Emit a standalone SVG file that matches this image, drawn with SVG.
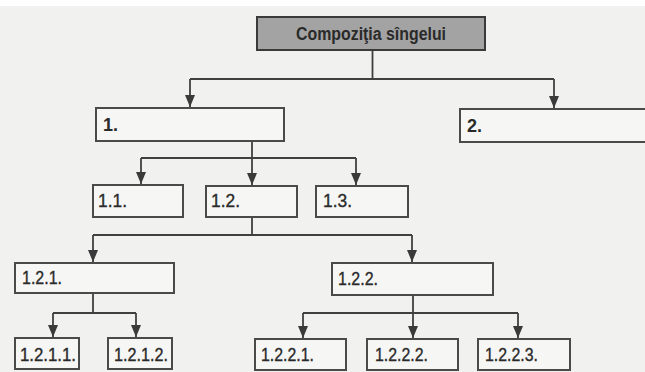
<svg xmlns="http://www.w3.org/2000/svg" width="645" height="372" viewBox="0 0 645 372">
<defs>
<marker id="ah" viewBox="0 0 12 10" refX="12" refY="5" markerWidth="12" markerHeight="10" markerUnits="userSpaceOnUse" orient="auto">
<path d="M0,0 L12,5 L0,10 Z" fill="#3a3a3a"/>
</marker>
<style>
.bx{fill:#f6f6f5;stroke:#4a4a4a;stroke-width:2}
.tl{fill:#a3a3a3;stroke:#3a3a3a;stroke-width:2}
.ln{fill:none;stroke:#404040;stroke-width:1.8}
.t{font-family:"Liberation Sans",Arial,sans-serif;font-size:19px;fill:#2a2a2a;stroke:#2a2a2a;stroke-width:0.35}
.b{font-family:"Liberation Sans",Arial,sans-serif;font-size:18px;font-weight:bold;fill:#2a2a2a}
</style>
</defs>
<rect x="0" y="0" width="645" height="372" fill="#f1f1ef"/>
<rect x="0" y="0" width="645" height="6" fill="#ffffff"/>
<g id="connectors">
<path class="ln" d="M372.5,50 V79 M190,79 H554"/>
<path class="ln" d="M190,79 V107" marker-end="url(#ah)"/>
<path class="ln" d="M554,79 V108" marker-end="url(#ah)"/>
<path class="ln" d="M252,141 V158 M141,158 H356"/>
<path class="ln" d="M141,158 V184" marker-end="url(#ah)"/>
<path class="ln" d="M252,158 V185" marker-end="url(#ah)"/>
<path class="ln" d="M356,158 V185" marker-end="url(#ah)"/>
<path class="ln" d="M252,217 V235 M93,235 H412"/>
<path class="ln" d="M93,235 V262" marker-end="url(#ah)"/>
<path class="ln" d="M412,235 V262" marker-end="url(#ah)"/>
<path class="ln" d="M93,293 V313 M53,313 H136"/>
<path class="ln" d="M53,313 V337" marker-end="url(#ah)"/>
<path class="ln" d="M136,313 V337" marker-end="url(#ah)"/>
<path class="ln" d="M413,295 V313 M303,313 H518"/>
<path class="ln" d="M303,313 V338" marker-end="url(#ah)"/>
<path class="ln" d="M413,313 V338" marker-end="url(#ah)"/>
<path class="ln" d="M518,313 V338" marker-end="url(#ah)"/>
</g>
<g id="root">
<rect class="tl" x="257" y="17" width="228" height="33"/>
<text class="b" x="371" y="40" text-anchor="middle" textLength="150" lengthAdjust="spacingAndGlyphs">Compoziţia sîngelui</text>
</g>
<g id="n1">
<rect class="bx" x="96" y="108" width="188" height="33"/>
<text class="b" x="103" y="131">1.</text>
</g>
<g id="n2">
<rect class="bx" x="460" y="109" width="190" height="33"/>
<text class="b" x="467" y="132">2.</text>
</g>
<g id="n1_1">
<rect class="bx" x="93" y="185" width="90" height="32"/>
<text class="t" x="98" y="207" textLength="29" lengthAdjust="spacingAndGlyphs">1.1.</text>
</g>
<g id="n1_2">
<rect class="bx" x="206" y="186" width="91" height="31"/>
<text class="t" x="211" y="207" textLength="29" lengthAdjust="spacingAndGlyphs">1.2.</text>
</g>
<g id="n1_3">
<rect class="bx" x="316" y="186" width="92" height="31"/>
<text class="t" x="323" y="207" textLength="29" lengthAdjust="spacingAndGlyphs">1.3.</text>
</g>
<g id="n1_2_1">
<rect class="bx" x="15" y="263" width="159" height="30"/>
<text class="t" x="22" y="284" textLength="40" lengthAdjust="spacingAndGlyphs">1.2.1.</text>
</g>
<g id="n1_2_2">
<rect class="bx" x="332" y="263" width="161" height="32"/>
<text class="t" x="338" y="285" textLength="40" lengthAdjust="spacingAndGlyphs">1.2.2.</text>
</g>
<g id="n1_2_1_1">
<rect class="bx" x="15" y="338" width="64" height="31"/>
<text class="t" x="20" y="361" textLength="56" lengthAdjust="spacingAndGlyphs">1.2.1.1.</text>
</g>
<g id="n1_2_1_2">
<rect class="bx" x="108" y="338" width="64" height="31"/>
<text class="t" x="114" y="361" textLength="54" lengthAdjust="spacingAndGlyphs">1.2.1.2.</text>
</g>
<g id="n1_2_2_1">
<rect class="bx" x="255" y="339" width="91" height="31"/>
<text class="t" x="261" y="361" textLength="53" lengthAdjust="spacingAndGlyphs">1.2.2.1.</text>
</g>
<g id="n1_2_2_2">
<rect class="bx" x="367" y="339" width="91" height="31"/>
<text class="t" x="375" y="361" textLength="53" lengthAdjust="spacingAndGlyphs">1.2.2.2.</text>
</g>
<g id="n1_2_2_3">
<rect class="bx" x="478" y="339" width="92" height="31"/>
<text class="t" x="485" y="361" textLength="53" lengthAdjust="spacingAndGlyphs">1.2.2.3.</text>
</g>
</svg>
